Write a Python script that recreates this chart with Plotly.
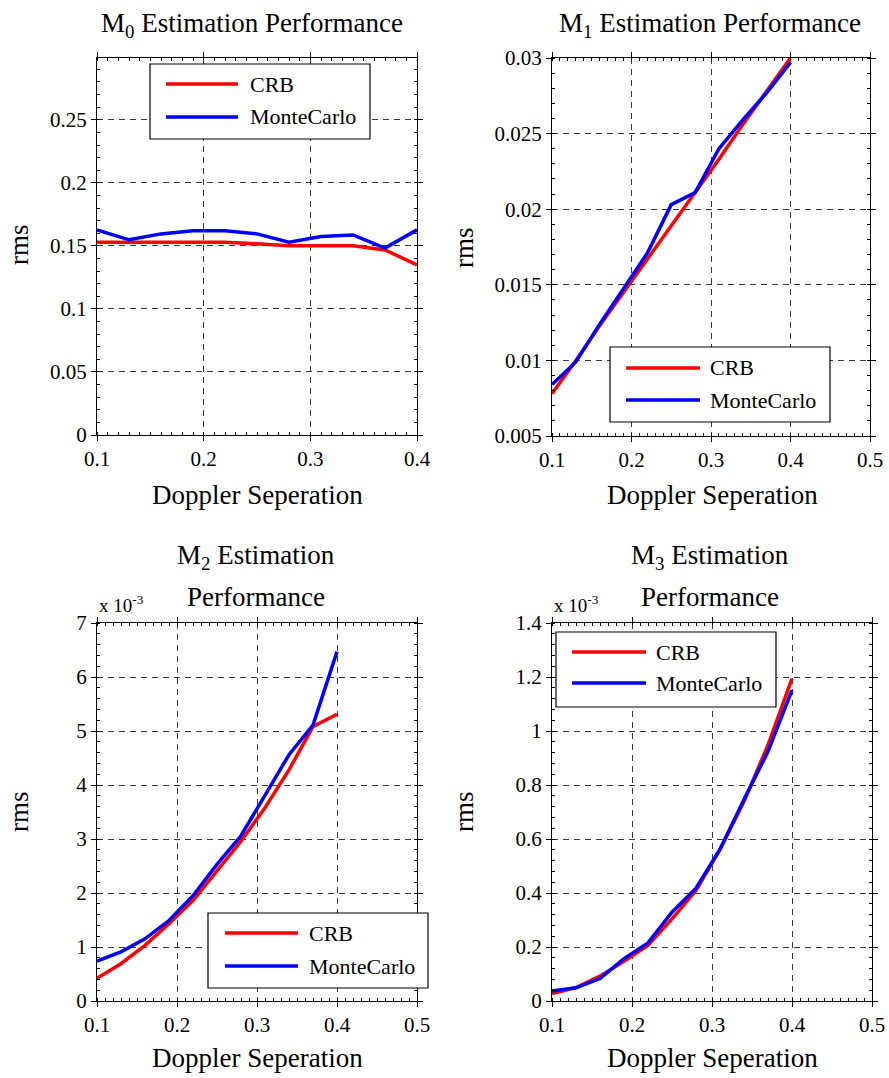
import plotly.graph_objects as go

W, H = 889, 1078
FONT = "Liberation Serif"

# Doppler separation values shared by all four panels
sep = [0.10, 0.13, 0.16, 0.19, 0.22, 0.25, 0.28, 0.31, 0.34, 0.37, 0.40]

# M0 rms
m0_crb = [0.1529, 0.1529, 0.1529, 0.1529, 0.1529, 0.1516, 0.1500, 0.1500, 0.1500, 0.1468, 0.1349]
m0_mc = [0.1627, 0.1548, 0.1595, 0.1619, 0.1619, 0.1595, 0.1529, 0.1574, 0.1587, 0.1482, 0.1627]

# M1 rms
m1_crb = [0.0078, 0.0100, 0.0123, 0.0145, 0.0167, 0.0189, 0.0211, 0.0233, 0.0256, 0.0278, 0.0300]
m1_mc = [0.0084, 0.0099, 0.0124, 0.0147, 0.0171, 0.0203, 0.0211, 0.0240, 0.0259, 0.0277, 0.0297]

# M2 rms, in units of 1e-3
m2_crb = [0.42, 0.69, 1.03, 1.43, 1.86, 2.41, 2.96, 3.58, 4.28, 5.08, 5.31]
m2_mc = [0.74, 0.91, 1.15, 1.49, 1.95, 2.53, 3.06, 3.82, 4.56, 5.11, 6.47]

# M3 rms, in units of 1e-3
m3_crb = [0.028, 0.050, 0.092, 0.147, 0.206, 0.304, 0.409, 0.561, 0.739, 0.948, 1.194]
m3_mc = [0.037, 0.049, 0.083, 0.157, 0.215, 0.329, 0.418, 0.562, 0.746, 0.924, 1.151]

series_names = ["CRB", "MonteCarlo"]
series_colors = ["#ff0000", "#0000ff"]


def px(x):
    return x / W


def py(y):
    return 1 - y / H


# panel layout in pixels: (left, right, top, bottom)
boxes = [(97, 417, 58, 435), (552, 870, 58, 436), (97, 417, 623, 1001), (552, 872, 623, 1001)]
panels = [
    dict(data=(m0_crb, m0_mc), xr=[0.1, 0.4], xt=[0.1, 0.2, 0.3, 0.4], yr=[0, 0.299],
         yt=[0, 0.05, 0.1, 0.15, 0.2, 0.25], ytt=["0", "0.05", "0.1", "0.15", "0.2", "0.25"], ym=0.01),
    dict(data=(m1_crb, m1_mc), xr=[0.1, 0.5], xt=[0.1, 0.2, 0.3, 0.4, 0.5], yr=[0.005, 0.03],
         yt=[0.005, 0.01, 0.015, 0.02, 0.025, 0.03],
         ytt=["0.005", "0.01", "0.015", "0.02", "0.025", "0.03"], ym=0.001),
    dict(data=(m2_crb, m2_mc), xr=[0.1, 0.5], xt=[0.1, 0.2, 0.3, 0.4, 0.5], yr=[0, 7],
         yt=[0, 1, 2, 3, 4, 5, 6, 7], ytt=[str(v) for v in range(8)], ym=0.2),
    dict(data=(m3_crb, m3_mc), xr=[0.1, 0.5], xt=[0.1, 0.2, 0.3, 0.4, 0.5], yr=[0, 1.4],
         yt=[0, 0.2, 0.4, 0.6, 0.8, 1.0, 1.2, 1.4],
         ytt=["0", "0.2", "0.4", "0.6", "0.8", "1", "1.2", "1.4"], ym=0.04),
]

fig = go.Figure()
layout = dict(
    width=W, height=H, margin=dict(l=0, r=0, t=0, b=0, autoexpand=False),
    paper_bgcolor="white", plot_bgcolor="white", showlegend=False,
    font=dict(family=FONT, size=21, color="black"),
)

axis_common = dict(
    showline=True, linecolor="black", linewidth=1, mirror="allticks",
    ticks="outside", ticklen=5, tickcolor="black", tickwidth=1,
    showgrid=True, gridcolor="#3a3a3a", gridwidth=1, griddash="6px,5px",
    zeroline=False, automargin=False,
    tickfont=dict(family=FONT, size=21, color="black"),
)

for i, (p, b) in enumerate(zip(panels, boxes)):
    n = "" if i == 0 else str(i + 1)
    l, r, t, bt = b
    layout["xaxis" + n] = dict(
        axis_common, domain=[px(l), px(r)], range=p["xr"], tickvals=p["xt"],
        ticktext=[f"{v:g}" for v in p["xt"]], anchor="y" + n,
        minor=dict(ticks="inside", ticklen=3, dtick=0.01, tickcolor="black", showgrid=False),
    )
    layout["yaxis" + n] = dict(
        axis_common, domain=[py(bt), py(t)], range=p["yr"], tickvals=p["yt"], ticktext=p["ytt"],
        anchor="x" + n,
        minor=dict(ticks="inside", ticklen=3, dtick=p["ym"], tickcolor="black", showgrid=False),
    )
    for name, vals, col in zip(series_names, p["data"], series_colors):
        fig.add_trace(go.Scatter(
            x=sep, y=vals, mode="lines", name=name,
            line=dict(color=col, width=3.5),
            xaxis="x" + n, yaxis="y" + n,
        ))

fig.update_layout(**layout)

annotations = []
shapes = []


def text(x, y, s, size=27, xanchor="center", yanchor="middle", angle=0):
    annotations.append(dict(
        x=px(x), y=py(y), xref="paper", yref="paper", text=s, showarrow=False,
        xanchor=xanchor, yanchor=yanchor, textangle=angle,
        font=dict(family=FONT, size=size, color="black"),
    ))


# panel titles
text(252, 25, "M<sub>0</sub> Estimation Performance")
text(710, 25, "M<sub>1</sub> Estimation Performance")
text(256, 557, "M<sub>2</sub> Estimation")
text(256, 597, "Performance")
text(710, 557, "M<sub>3</sub> Estimation")
text(710, 597, "Performance")

# axis titles
for cx, cy in [(257, 495), (712, 495), (257, 1058), (712, 1058)]:
    text(cx, cy, "Doppler Seperation")
for cx, cy in [(19, 245), (464, 248), (19, 812), (464, 812)]:
    text(cx, cy, "rms", angle=-90)

# exponent labels
for ex in [97, 552]:
    text(ex, 604, "x 10<sup>-3</sup>", size=19, xanchor="left")


def legend_box(x0, y0, x1, y1, line_x0, line_x1, y_a, y_b, tx):
    shapes.append(dict(type="rect", xref="paper", yref="paper",
                       x0=px(x0), x1=px(x1), y0=py(y0), y1=py(y1),
                       line=dict(color="black", width=1.2), fillcolor="white", layer="above"))
    for yy, col, name in zip((y_a, y_b), series_colors, series_names):
        shapes.append(dict(type="line", xref="paper", yref="paper",
                           x0=px(line_x0), x1=px(line_x1), y0=py(yy), y1=py(yy),
                           line=dict(color=col, width=3.5), layer="above"))
        text(tx, yy, name, size=22, xanchor="left")


legend_box(150, 64, 370, 139, 166, 238, 84, 117, 248)
legend_box(610, 347, 830, 422, 626, 700, 368, 400, 708)
legend_box(208, 913, 428, 988, 225, 298, 933, 966, 307)
legend_box(556, 632, 776, 707, 572, 646, 652, 683, 654)

fig.update_layout(annotations=annotations, shapes=shapes)
fig.write_html("out.html")
